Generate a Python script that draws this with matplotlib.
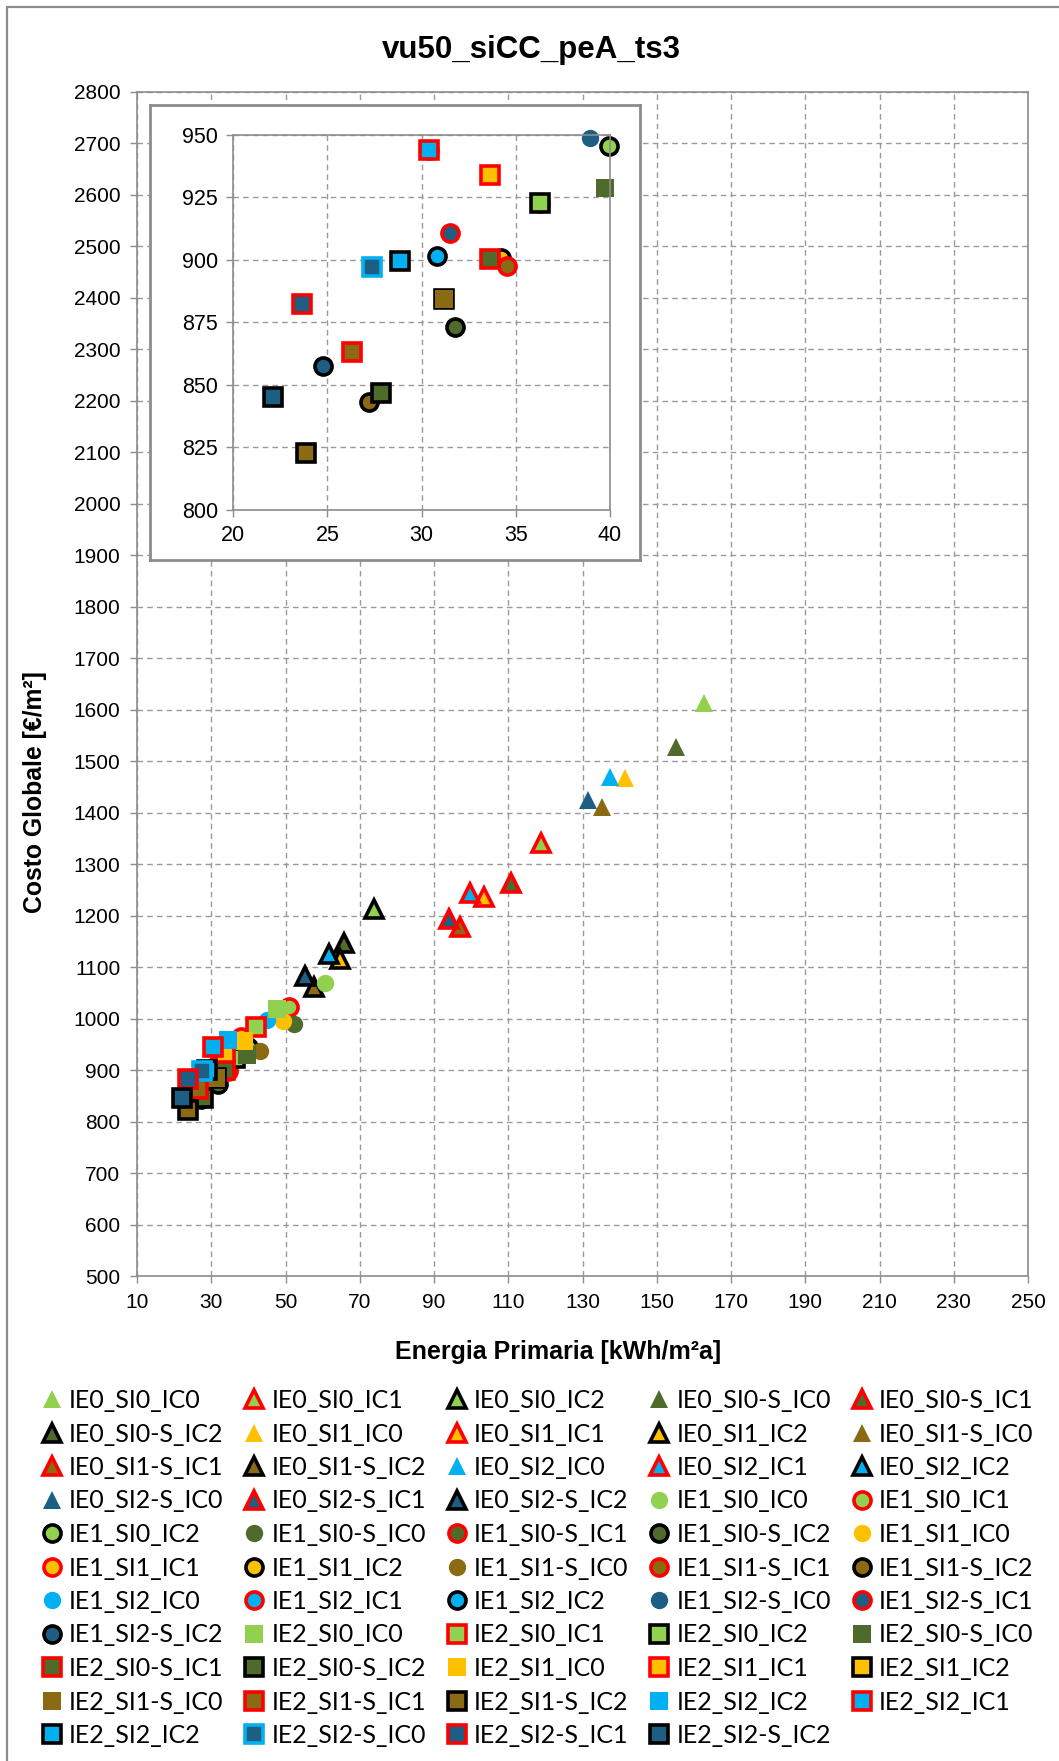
import matplotlib
matplotlib.use("Agg")
import matplotlib.pyplot as plt
from matplotlib.lines import Line2D
from matplotlib.patches import Rectangle

# ---------------- data ----------------
legend_labels = [
    "IE0_SI0_IC0", "IE0_SI0_IC1", "IE0_SI0_IC2", "IE0_SI0-S_IC0", "IE0_SI0-S_IC1",
    "IE0_SI0-S_IC2", "IE0_SI1_IC0", "IE0_SI1_IC1", "IE0_SI1_IC2", "IE0_SI1-S_IC0",
    "IE0_SI1-S_IC1", "IE0_SI1-S_IC2", "IE0_SI2_IC0", "IE0_SI2_IC1", "IE0_SI2_IC2",
    "IE0_SI2-S_IC0", "IE0_SI2-S_IC1", "IE0_SI2-S_IC2", "IE1_SI0_IC0", "IE1_SI0_IC1",
    "IE1_SI0_IC2", "IE1_SI0-S_IC0", "IE1_SI0-S_IC1", "IE1_SI0-S_IC2", "IE1_SI1_IC0",
    "IE1_SI1_IC1", "IE1_SI1_IC2", "IE1_SI1-S_IC0", "IE1_SI1-S_IC1", "IE1_SI1-S_IC2",
    "IE1_SI2_IC0", "IE1_SI2_IC1", "IE1_SI2_IC2", "IE1_SI2-S_IC0", "IE1_SI2-S_IC1",
    "IE1_SI2-S_IC2", "IE2_SI0_IC0", "IE2_SI0_IC1", "IE2_SI0_IC2", "IE2_SI0-S_IC0",
    "IE2_SI0-S_IC1", "IE2_SI0-S_IC2", "IE2_SI1_IC0", "IE2_SI1_IC1", "IE2_SI1_IC2",
    "IE2_SI1-S_IC0", "IE2_SI1-S_IC1", "IE2_SI1-S_IC2", "IE2_SI2_IC2", "IE2_SI2_IC1",
    "IE2_SI2_IC2", "IE2_SI2-S_IC0", "IE2_SI2-S_IC1", "IE2_SI2-S_IC2",
]
# style code of each series (the 49th series is drawn as an IC0 marker although labelled IC2)
series_codes = list(legend_labels)
series_codes[48] = "IE2_SI2_IC0"

energia = [
    162.6, 118.8, 73.9, 155.2, 110.7,
    65.8, 141.4, 103.4, 64.6, 135.3,
    96.9, 57.8, 137.3, 99.8, 61.6,
    131.6, 94.0, 55.3, 60.6, 50.9,
    39.93, 52.3, 36.28, 31.75, 49.4,
    38.0, 34.2, 43.1, 34.51, 27.19,
    44.9, 30.41, 30.80, 38.94, 31.50,
    24.78, 47.8, 42.0, 36.28, 39.75,
    33.63, 27.82, 38.8, 33.63, 31.19,
    31.19, 26.30, 23.84, 34.5, 30.41,
    28.85, 27.38, 23.65, 22.12,
]
costo = [
    1612, 1340, 1212, 1528, 1263,
    1146, 1468, 1236, 1116, 1411,
    1178, 1062, 1469, 1243, 1125,
    1424, 1194, 1082, 1069, 1022,
    945.6, 989, 922.6, 873.3, 995,
    964, 900.8, 937, 897.6, 843.3,
    998, 943.9, 901.6, 948.8, 910.6,
    857.7, 1019.5, 984, 922.6, 928.8,
    900.4, 846.6, 957, 933.9, 884.3,
    884.3, 863.3, 822.7, 958, 943.9,
    899.5, 897.2, 882.5, 845.3,
]

main_xticks = list(range(10, 251, 20))
main_yticks = list(range(500, 2801, 100))
inset_xticks = [20, 25, 30, 35, 40]
inset_yticks = [800, 825, 850, 875, 900, 925, 950]

# ---------------- styles ----------------
SHAPE = {"IE0": "^", "IE1": "o", "IE2": "s"}
FACE = {"SI0": "#92D050", "SI1": "#FFC000", "SI2": "#00B0F0",
        "SI0-S": "#4E6B2C", "SI1-S": "#8A6A12", "SI2-S": "#1D5E84"}
EDGE = {"IC1": "#FF0000", "IC2": "#000000"}
SPECIAL_EDGE = {"IE2_SI2-S_IC0": "#00B0F0"}


def style(code):
    ie, si, ic = code.split("_")
    shp = SHAPE[ie]
    st = dict(marker=shp, markerfacecolor=FACE[si], linestyle="none")
    edge = EDGE.get(ic, SPECIAL_EDGE.get(code))
    if edge is None:
        st.update(markeredgewidth=0, markeredgecolor=FACE[si],
                  markersize={"^": 13.5, "o": 12.5, "s": 12.5}[shp])
    else:
        st.update(markeredgewidth=2.6, markeredgecolor=edge,
                  markersize={"^": 12.5, "o": 12.3, "s": 12.8}[shp])
    return st


W, H = 1059, 1761
fig = plt.figure(figsize=(W / 100, H / 100), dpi=100)
fig.patch.set_facecolor("white")


def fx(p):
    return p / W


def fy(p):
    return 1 - p / H


GRAY = "#8c8c8c"
GRID = "#9a9a9a"
FAM = ["Liberation Sans", "DejaVu Sans"]

# outer frame of the chart area
fig.patches.append(Rectangle((fx(7), -0.05), 1.2, fy(7) + 0.05, transform=fig.transFigure,
                             fill=False, edgecolor=GRAY, linewidth=1.6, zorder=0))

# ---------------- main axes ----------------
ax = fig.add_axes([fx(137), fy(1276), (1028 - 137) / W, (1276 - 91.7) / H])
ax.set_xlim(10, 250)
ax.set_ylim(500, 2800)
ax.set_xticks(main_xticks)
ax.set_yticks(main_yticks)
ax.grid(True, color=GRID, linestyle=(0, (4, 3)), linewidth=1.0)
ax.set_axisbelow(True)
for s in ax.spines.values():
    s.set_color(GRAY)
    s.set_linewidth(1.2)
ax.tick_params(direction="out", length=5, width=1, color=GRAY, labelsize=15, pad=7)
for lab in ax.get_xticklabels() + ax.get_yticklabels():
    lab.set_fontfamily(FAM)

for i, code in enumerate(series_codes):
    ax.plot([energia[i]], [costo[i]], **style(code))

# ---------------- inset ----------------
frame = fig.add_axes([fx(150), fy(560), (640 - 150) / W, (560 - 105) / H])
frame.set_zorder(1)
frame.set_xticks([])
frame.set_yticks([])
frame.set_facecolor("white")
for s in frame.spines.values():
    s.set_color(GRAY)
    s.set_linewidth(2.0)

ins = fig.add_axes([fx(233.3), fy(510), (610 - 233.3) / W, (510 - 134.7) / H])
ins.set_zorder(2)
ins.set_facecolor("white")
ins.set_xlim(20, 40)
ins.set_ylim(800, 950)
ins.set_xticks(inset_xticks)
ins.set_yticks(inset_yticks)
ins.grid(True, color=GRID, linestyle=(0, (4, 3)), linewidth=1.0)
ins.set_axisbelow(True)
for s in ins.spines.values():
    s.set_color(GRAY)
    s.set_linewidth(1.2)
ins.tick_params(direction="out", length=5, width=1, color=GRAY, labelsize=15.5, pad=6)
for lab in ins.get_xticklabels() + ins.get_yticklabels():
    lab.set_fontfamily(FAM)

for i, code in enumerate(series_codes):
    if 20 <= energia[i] <= 40 and 800 <= costo[i] <= 950:
        ins.plot([energia[i]], [costo[i]], clip_on=False, **style(code))

# ---------------- texts ----------------
fig.text(fx(531), fy(50), "vu50_siCC_peA_ts3", ha="center", va="center",
         fontsize=22.5, fontweight="bold", family=FAM)
fig.text(fx(558), fy(1352), "Energia Primaria [kWh/m²a]", ha="center", va="center",
         fontsize=18, fontweight="bold", family=FAM)
fig.text(fx(35), fy(792), "Costo Globale [€/m²]", ha="center", va="center",
         rotation=90, fontsize=17.8, fontweight="bold", family=FAM)

# ---------------- legend (row-major order like the original) ----------------
handles = [Line2D([], [], **style(c)) for c in series_codes]
ncol, n = 5, len(handles)
nrow = -(-n // ncol)
order = [r * ncol + c for c in range(ncol) for r in range(nrow) if r * ncol + c < n]
fig.legend([handles[k] for k in order], [legend_labels[k] for k in order],
           ncol=ncol, loc="upper left", bbox_to_anchor=(fx(39), fy(1389)),
           frameon=False, prop=dict(family=["Lato", "DejaVu Sans"], size=18),
           handlelength=1.0, handletextpad=0.2, columnspacing=0.72,
           labelspacing=0.42, borderpad=0, borderaxespad=0)

fig.savefig("out.png", dpi=100)
